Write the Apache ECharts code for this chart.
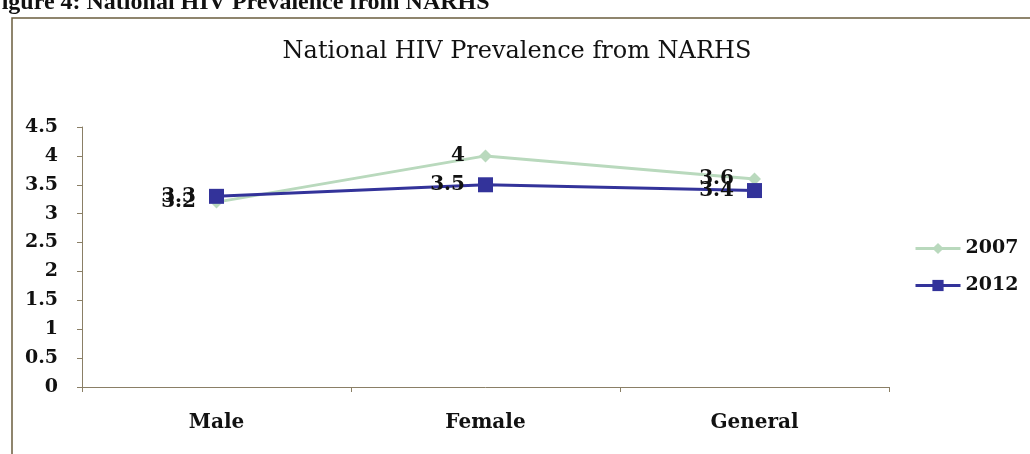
<!DOCTYPE html>
<html><head><meta charset="utf-8">
<script src="https://cdn.jsdelivr.net/npm/echarts@6/dist/echarts.min.js"></script>
<style>html,body{margin:0;padding:0;background:#fff}#c{width:1030px;height:454px}</style>
</head><body><div id="c"></div>
<script>
const categories = ['Male', 'Female', 'General'];
const y2007 = [3.2, 4, 3.6];
const y2012 = [3.3, 3.5, 3.4];
const yTicks = [0, 0.5, 1, 1.5, 2, 2.5, 3, 3.5, 4, 4.5];

const chart = echarts.init(document.getElementById('c'));
const serif = '"Liberation Serif", "Times New Roman", serif';
const wide = '"DejaVu Serif", serif';
const axisCol = '#8a7f66';
const lbl = { fontFamily: wide, fontWeight: 'bold', fontSize: 19, color: '#111' };
chart.setOption({
  animation: false,
  backgroundColor: '#fff',
  title: {
    text: 'National HIV Prevalence from NARHS',
    left: 512, top: 35, textAlign: 'center',
    textStyle: { fontFamily: wide, fontWeight: 'normal', fontSize: 24, color: '#111' }
  },
  graphic: [
    { type: 'rect', shape: { x: 12, y: 18, width: 1100, height: 500 },
      style: { fill: 'none', stroke: '#6b5d3e', lineWidth: 1.5 } },
    { type: 'text', left: -13, top: -9,
      style: { text: 'Figure 4: National HIV Prevalence from NARHS', font: 'bold 24px ' + serif, fill: '#111' } }
  ],
  legend: {
    orient: 'vertical', left: 909, top: 234, itemGap: 18, itemWidth: 45, itemHeight: 14,
    lineStyle: { width: 3 },
    textStyle: Object.assign({}, lbl, { fontSize: 19 }),
    data: ['2007', '2012']
  },
  grid: { left: 82, right: 141, top: 127, bottom: 67 },
  xAxis: {
    type: 'category', data: categories, boundaryGap: true,
    axisLine: { lineStyle: { color: axisCol, width: 1 } },
    axisTick: { show: true, length: 5, lineStyle: { color: axisCol } },
    axisLabel: Object.assign({ margin: 26 }, lbl, { fontSize: 20 })
  },
  yAxis: {
    type: 'value', min: 0, max: 4.5, interval: 0.5,
    splitLine: { show: false },
    axisLine: { show: true, lineStyle: { color: axisCol, width: 1 } },
    axisTick: { show: true, length: 5, lineStyle: { color: axisCol } },
    axisLabel: Object.assign({ margin: 24,
      formatter: v => yTicks.includes(v) ? String(v) : '' }, lbl)
  },
  series: [
    { name: '2007', type: 'line', data: y2007, symbol: 'diamond', symbolSize: 13,
      lineStyle: { color: '#b9d9bd', width: 3 }, itemStyle: { color: '#b9d9bd' },
      label: Object.assign({ show: true, position: 'left', distance: 14 }, lbl, { fontSize: 20 }) },
    { name: '2012', type: 'line', data: y2012, symbol: 'rect', symbolSize: 15,
      lineStyle: { color: '#33339a', width: 3 }, itemStyle: { color: '#33339a' },
      label: Object.assign({ show: true, position: 'left', distance: 13 }, lbl, { fontSize: 20 }) }
  ]
});
</script></body></html>
